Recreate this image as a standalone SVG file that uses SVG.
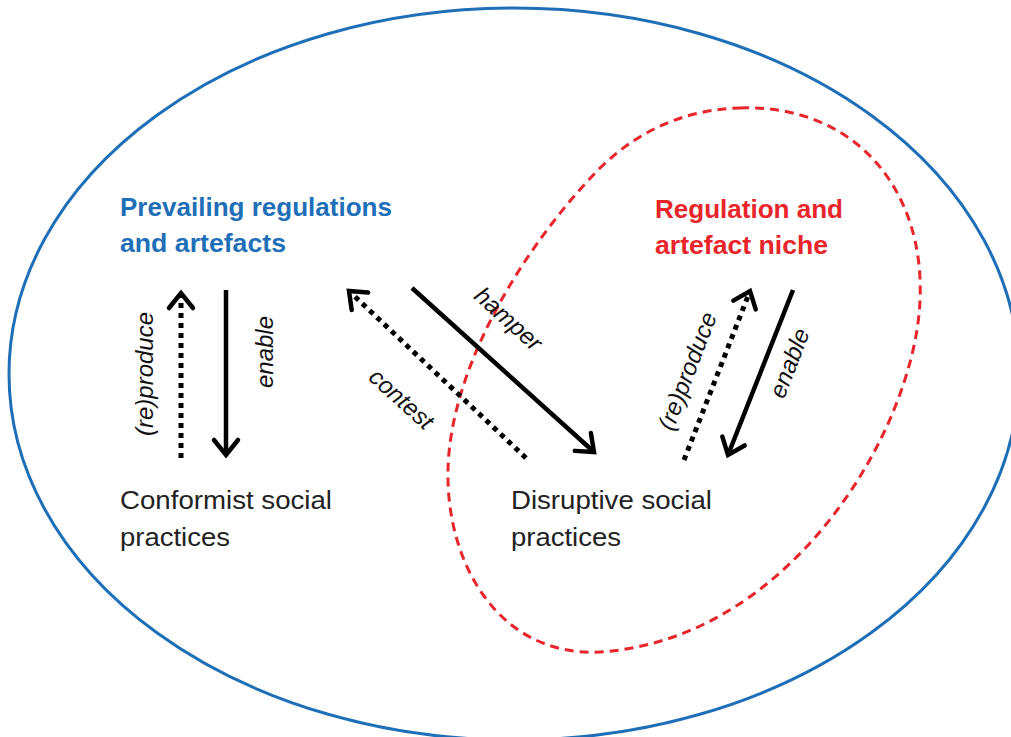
<svg xmlns="http://www.w3.org/2000/svg" width="1011" height="737" viewBox="0 0 1011 737">
<style>
.title{font-family:"Liberation Sans",Arial,sans-serif;font-weight:bold;font-size:25px}
.body{font-family:"Liberation Sans",Arial,sans-serif;font-size:25px;fill:#222}
.lab{font-family:"Liberation Sans",Arial,sans-serif;font-style:italic;font-size:24px;fill:#111}
.solid{stroke:#000;stroke-width:4.5;fill:none}
.dot{stroke:#000;stroke-width:5;fill:none;stroke-dasharray:5 5}
</style>
<defs>
<marker id="head" markerUnits="userSpaceOnUse" markerWidth="40" markerHeight="40" refX="0" refY="0" viewBox="-20 -20 40 40" orient="auto" overflow="visible">
<path d="M -15,-12 L 0,0 L -15,12" fill="none" stroke="#000" stroke-width="4.5" stroke-linecap="round" stroke-linejoin="miter"/>
</marker>
</defs>
<rect width="1011" height="737" fill="#fff"/>
<g id="outer">
<ellipse cx="514" cy="374" rx="505" ry="366" fill="none" stroke="#1f6fb8" stroke-width="3"/>
</g>
<g id="niche">
<path d="M 740,108 C 855,104 925,190 920,300 C 915,430 790,640 600,652 C 500,657 446,565 448,470 C 450,370 520,250 600,168 C 645,124 695,109 740,108 Z" fill="none" stroke="#e8252a" stroke-width="3" stroke-dasharray="9 6"/>
</g>
<g id="prevailing">
<text class="title" fill="#1f6fb8" x="120" y="216" textLength="272" lengthAdjust="spacingAndGlyphs">Prevailing regulations</text>
<text class="title" fill="#1f6fb8" x="120" y="252" textLength="166" lengthAdjust="spacingAndGlyphs">and artefacts</text>
</g>
<g id="regniche">
<text class="title" fill="#e8252a" x="655" y="218" textLength="188" lengthAdjust="spacingAndGlyphs">Regulation and</text>
<text class="title" fill="#e8252a" x="655" y="254" textLength="173" lengthAdjust="spacingAndGlyphs">artefact niche</text>
</g>
<g id="conformist">
<text class="body" x="120" y="509" textLength="212" lengthAdjust="spacingAndGlyphs">Conformist social</text>
<text class="body" x="120" y="546" textLength="110" lengthAdjust="spacingAndGlyphs">practices</text>
</g>
<g id="disruptive">
<text class="body" x="511" y="509" textLength="201" lengthAdjust="spacingAndGlyphs">Disruptive social</text>
<text class="body" x="511" y="546" textLength="110" lengthAdjust="spacingAndGlyphs">practices</text>
</g>
<g id="connectors">
<line class="dot" x1="181" y1="458" x2="181" y2="293" marker-end="url(#head)"/>
<line class="solid" x1="226" y1="290" x2="226" y2="455" marker-end="url(#head)"/>
<line class="dot" x1="526" y1="458" x2="349" y2="291" marker-end="url(#head)"/>
<line class="solid" x1="412" y1="288" x2="594" y2="452" marker-end="url(#head)"/>
<line class="dot" x1="684" y1="460" x2="750" y2="291" marker-end="url(#head)"/>
<line class="solid" x1="793" y1="290" x2="728" y2="455" marker-end="url(#head)"/>
<text class="lab" text-anchor="middle" transform="translate(153,374) rotate(-90)">(re)produce</text>
<text class="lab" text-anchor="middle" transform="translate(273,352) rotate(-90)">enable</text>
<text class="lab" text-anchor="middle" transform="translate(503,325) rotate(42)">hamper</text>
<text class="lab" text-anchor="middle" transform="translate(396,405) rotate(42)">contest</text>
<text class="lab" text-anchor="middle" transform="translate(695,374) rotate(-69)">(re)produce</text>
<text class="lab" text-anchor="middle" transform="translate(797,366) rotate(-69)">enable</text>
</g>
</svg>
